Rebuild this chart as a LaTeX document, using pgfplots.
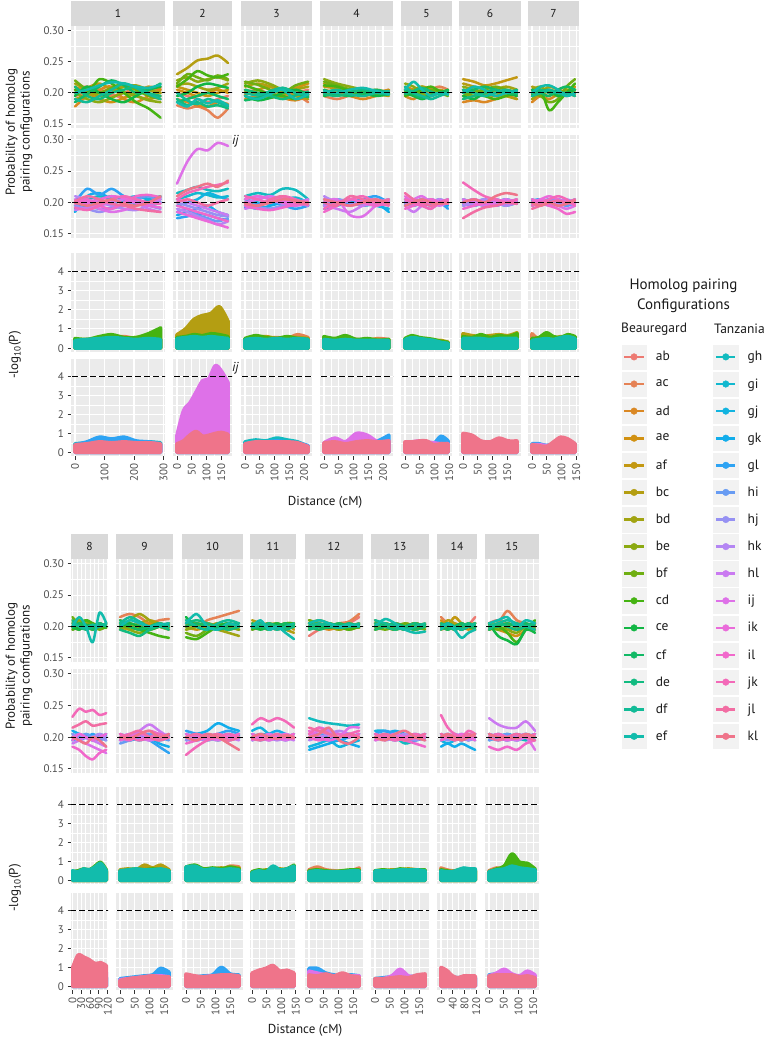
\documentclass[border=0pt]{standalone}
\usepackage{pgfplots}
\pgfplotsset{compat=1.18}
\usepackage{pgfplotstable}
\usepackage{fontspec}
\setmainfont{PT Sans}

\definecolor{gmix}{HTML}{9A9A9A}
\newcommand\mkcol[2]{\definecolor{tmpc}{HTML}{#2}\colorlet{#1}{tmpc!88!gmix}}
\mkcol{B1}{F8766D}\mkcol{B2}{EF7F4C}\mkcol{B3}{E38614}\mkcol{B4}{D89000}\mkcol{B5}{C89800}
\mkcol{B6}{B79F00}\mkcol{B7}{A3A500}\mkcol{B8}{8AAC00}\mkcol{B9}{69B100}\mkcol{B10}{39B600}
\mkcol{B11}{00BA38}\mkcol{B12}{00BD5F}\mkcol{B13}{00BF7D}\mkcol{B14}{00C097}\mkcol{B15}{00C1AE}
\mkcol{T1}{00BFC4}\mkcol{T2}{00BCD6}\mkcol{T3}{00B7E9}\mkcol{T4}{00B0F6}\mkcol{T5}{1FA4FF}
\mkcol{T6}{619CFF}\mkcol{T7}{9590FF}\mkcol{T8}{B783FF}\mkcol{T9}{D176FD}\mkcol{T10}{E76BF3}
\mkcol{T11}{F564E3}\mkcol{T12}{FD61D2}\mkcol{T13}{FF62BC}\mkcol{T14}{FE67A4}\mkcol{T15}{FB6F88}
\definecolor{ggbg}{HTML}{EBEBEB}
\definecolor{ggstrip}{HTML}{D9D9D9}
\definecolor{gg30}{HTML}{4D4D4D}
\definecolor{gg20}{HTML}{333333}
\definecolor{gg10}{HTML}{1A1A1A}
\definecolor{legbg}{HTML}{F2F2F2}

\newcommand\tickf{\fontsize{11}{12}\selectfont}
\newcommand\stripf{\fontsize{11.5}{13}\selectfont}
\newcommand\titf{\fontsize{13}{14.8}\selectfont}
\newcommand\legf{\fontsize{13.5}{15}\selectfont}
\newcommand\legtf{\fontsize{15}{20.3}\selectfont}

\pgfplotsset{
 gg/.style={scale only axis, anchor=north west,
  axis background/.style={fill=ggbg},
  axis line style={draw=none},
  grid=both,
  major grid style={white, line width=1.1pt},
  minor grid style={white, line width=0.55pt},
  minor x tick num=1, minor y tick num=1,
  tick pos=left, tick align=outside,
  major tick length=3.5pt, minor tick length=0pt,
  tick style={gg20, line width=0.9pt},
  tick label style={font=\tickf, text=gg30},
  x tick label style={rotate=90, anchor=east},
  /pgf/number format/assume math mode=true,
  scaled ticks=false,
  clip mode=individual,
  every axis title/.style={at={(0.5,1)}, anchor=south, fill=ggstrip, minimum height=24.5pt, inner sep=0pt, font=\stripf, text=gg10},
 },
 prob/.style={ymin=0.1435, ymax=0.3075, ytick={0.15,0.2,0.25,0.3},
   y tick label style={/pgf/number format/fixed, /pgf/number format/fixed zerofill, /pgf/number format/precision=2}},
 logr/.style={ymin=-0.2, ymax=4.95, ytick={0,1,2,3,4}},
 noxl/.style={xticklabels={}, xtick style={draw=none}},
 noyl/.style={yticklabels={}, ytick style={draw=none}},
 r1/.style={prob,noxl}, r2/.style={prob,noxl}, r3/.style={logr,noxl}, r4/.style={logr},
 c1/.style={width=94pt, xmin=-13.5, xmax=305, xtick={0,100,200,300}, title style={minimum width=94pt}},
 c2/.style={width=59pt, xmin=-13.5, xmax=186.5, xtick={0,50,100,150}, title style={minimum width=59pt}, noyl},
 c3/.style={width=71pt, xmin=-13.5, xmax=227, xtick={0,50,100,150,200}, title style={minimum width=71pt}, noyl},
 c4/.style={width=73pt, xmin=-13.5, xmax=234, xtick={0,50,100,150,200}, title style={minimum width=73pt}, noyl},
 c5/.style={width=51pt, xmin=-13.5, xmax=159.4, xtick={0,50,100,150}, title style={minimum width=51pt}, noyl},
 c6/.style={width=62pt, xmin=-13.5, xmax=196.7, xtick={0,50,100,150}, title style={minimum width=62pt}, noyl},
 c7/.style={width=51pt, xmin=-13.5, xmax=159.4, xtick={0,50,100,150}, title style={minimum width=51pt}, noyl},
 c8/.style={width=37pt, xmin=-5, xmax=121, xtick={0,30,60,90,120}, title style={minimum width=37pt}},
 c9/.style={width=57pt, xmin=-13.5, xmax=179.7, xtick={0,50,100,150}, title style={minimum width=57pt}, noyl},
 c10/.style={width=61pt, xmin=-13.5, xmax=193.3, xtick={0,50,100,150}, title style={minimum width=61pt}, noyl},
 c11/.style={width=46pt, xmin=-7, xmax=151, xtick={0,50,100,150}, title style={minimum width=46pt}, noyl},
 c12/.style={width=58pt, xmin=-13.5, xmax=183.1, xtick={0,50,100,150}, title style={minimum width=58pt}, noyl},
 c13/.style={width=58pt, xmin=-13.5, xmax=183.1, xtick={0,50,100,150}, title style={minimum width=58pt}, noyl},
 c14/.style={width=40pt, xmin=-13.5, xmax=122.1, xtick={0,40,80,120}, title style={minimum width=40pt}, noyl},
 c15/.style={width=54pt, xmin=-13.5, xmax=169.5, xtick={0,50,100,150}, title style={minimum width=54pt}, noyl},
 probline/.style={line width=2.5pt, smooth, line join=round, line cap=round},
 logarea/.style={line width=3.6pt, smooth, line join=round, fill},
 hl/.style={black, line width=1.1pt, dash pattern=on 5.5pt off 3.5pt},
}

\newcommand\probB[1]{\pgfplotsinvokeforeach{1,...,15}{\addplot[probline, color=B##1] table[x index=0, y index=##1] {#1};}\addplot[hl] coordinates {(-100,0.2) (400,0.2)};}
\newcommand\probT[1]{\pgfplotsinvokeforeach{1,...,15}{\addplot[probline, color=T##1] table[x index=0, y index=##1] {#1};}\addplot[hl] coordinates {(-100,0.2) (400,0.2)};}
\newcommand\logB[1]{%
\addplot[logarea, color=B2] table[x index=0, y index=3] {#1} \closedcycle;
\addplot[logarea, color=B6] table[x index=0, y index=2] {#1} \closedcycle;
\addplot[logarea, color=B10] table[x index=0, y index=1] {#1} \closedcycle;
\addplot[logarea, color=B15] table[x index=0, y index=4] {#1} \closedcycle;
\addplot[hl] coordinates {(-100,4) (400,4)};}
\newcommand\logT[1]{%
\addplot[logarea, color=T1] table[x index=0, y index=3] {#1} \closedcycle;
\addplot[logarea, color=T5] table[x index=0, y index=1] {#1} \closedcycle;
\addplot[logarea, color=T10] table[x index=0, y index=2] {#1} \closedcycle;
\addplot[logarea, color=T15] table[x index=0, y index=4] {#1} \closedcycle;
\addplot[hl] coordinates {(-100,4) (400,4)};}
\newcommand\pnl[5]{\begin{axis}[gg, at={(#1pt,-#2pt)}, height=#3pt, #4]#5\end{axis}}
\newcommand\lgi[2]{\addlegendimage{#1}\addlegendentry{#2}}

% ---------------- data: probability, Beauregard (PB) and Tanzania (PT) ----------------
\pgfplotstableread{
0 0.195 0.205 0.178 0.210 0.200 0.190 0.215 0.200 0.220 0.205 0.195 0.185 0.210 0.190 0.200
41 0.200 0.210 0.195 0.200 0.208 0.195 0.205 0.190 0.205 0.200 0.210 0.198 0.195 0.185 0.205
83 0.205 0.200 0.205 0.190 0.215 0.200 0.195 0.185 0.200 0.222 0.200 0.210 0.190 0.195 0.212
124 0.198 0.195 0.210 0.185 0.205 0.207 0.200 0.192 0.208 0.215 0.190 0.220 0.200 0.205 0.217
166 0.192 0.200 0.190 0.192 0.200 0.210 0.210 0.200 0.215 0.200 0.185 0.212 0.205 0.215 0.215
207 0.200 0.207 0.185 0.200 0.195 0.205 0.212 0.195 0.205 0.185 0.195 0.200 0.210 0.208 0.210
249 0.205 0.203 0.195 0.210 0.190 0.198 0.205 0.188 0.195 0.175 0.205 0.205 0.200 0.198 0.208
290 0.200 0.208 0.205 0.205 0.195 0.200 0.200 0.185 0.190 0.160 0.210 0.215 0.195 0.190 0.213
}\PBa
\pgfplotstableread{
0 0.200 0.195 0.190 0.185 0.200 0.205 0.195 0.210 0.188 0.200 0.205 0.198 0.192 0.202 0.200
41 0.205 0.200 0.195 0.210 0.222 0.195 0.190 0.205 0.192 0.198 0.200 0.205 0.188 0.210 0.195
83 0.210 0.205 0.200 0.215 0.212 0.190 0.185 0.200 0.195 0.190 0.205 0.195 0.195 0.205 0.200
124 0.205 0.210 0.198 0.205 0.222 0.192 0.190 0.195 0.200 0.185 0.210 0.190 0.205 0.198 0.205
166 0.200 0.205 0.205 0.200 0.210 0.198 0.195 0.190 0.205 0.188 0.207 0.200 0.210 0.195 0.198
207 0.198 0.200 0.210 0.205 0.205 0.205 0.200 0.188 0.200 0.195 0.200 0.210 0.205 0.190 0.195
249 0.205 0.195 0.205 0.210 0.200 0.210 0.195 0.195 0.190 0.200 0.195 0.212 0.200 0.187 0.200
290 0.210 0.200 0.200 0.205 0.208 0.200 0.190 0.200 0.185 0.205 0.192 0.208 0.198 0.185 0.210
}\PTa
\pgfplotstableread{
0 0.200 0.180 0.190 0.205 0.210 0.230 0.212 0.220 0.215 0.210 0.195 0.185 0.190 0.200 0.185
35 0.195 0.175 0.185 0.200 0.205 0.240 0.215 0.225 0.230 0.222 0.200 0.190 0.180 0.188 0.178
69 0.190 0.178 0.180 0.195 0.200 0.252 0.210 0.218 0.225 0.235 0.210 0.195 0.185 0.182 0.190
104 0.185 0.172 0.178 0.200 0.195 0.255 0.205 0.222 0.220 0.228 0.215 0.200 0.178 0.190 0.183
138 0.190 0.160 0.185 0.205 0.200 0.260 0.208 0.225 0.228 0.225 0.212 0.195 0.180 0.185 0.188
173 0.195 0.175 0.182 0.200 0.205 0.248 0.215 0.220 0.222 0.230 0.208 0.190 0.175 0.178 0.180
}\PBb
\pgfplotstableread{
0 0.215 0.205 0.195 0.180 0.175 0.185 0.200 0.190 0.205 0.230 0.185 0.195 0.205 0.200 0.210
35 0.220 0.210 0.200 0.185 0.178 0.190 0.195 0.185 0.200 0.265 0.180 0.190 0.215 0.205 0.220
69 0.225 0.215 0.205 0.190 0.182 0.180 0.190 0.178 0.195 0.285 0.175 0.185 0.220 0.200 0.225
104 0.220 0.212 0.215 0.195 0.180 0.175 0.185 0.172 0.190 0.283 0.170 0.180 0.225 0.195 0.230
138 0.218 0.208 0.210 0.185 0.175 0.170 0.180 0.165 0.185 0.295 0.165 0.175 0.228 0.200 0.225
173 0.222 0.210 0.205 0.180 0.172 0.175 0.178 0.170 0.180 0.290 0.160 0.170 0.232 0.205 0.235
}\PTb
\pgfplotstableread{
0 0.200 0.195 0.190 0.205 0.198 0.210 0.203 0.215 0.218 0.212 0.195 0.188 0.205 0.200 0.195
43 0.205 0.190 0.195 0.200 0.205 0.215 0.198 0.220 0.213 0.205 0.188 0.192 0.200 0.196 0.190
86 0.198 0.200 0.200 0.195 0.210 0.210 0.192 0.214 0.205 0.198 0.192 0.200 0.195 0.203 0.198
128 0.195 0.205 0.192 0.200 0.205 0.200 0.198 0.205 0.200 0.195 0.200 0.208 0.190 0.208 0.205
171 0.200 0.198 0.188 0.208 0.200 0.195 0.205 0.200 0.212 0.190 0.205 0.200 0.196 0.200 0.190
214 0.205 0.185 0.195 0.215 0.195 0.190 0.210 0.195 0.218 0.197 0.198 0.193 0.202 0.197 0.198
}\PBc
\pgfplotstableread{
0 0.210 0.205 0.200 0.195 0.192 0.200 0.198 0.205 0.190 0.200 0.205 0.195 0.210 0.200 0.198
43 0.215 0.200 0.195 0.190 0.198 0.205 0.193 0.210 0.195 0.205 0.210 0.190 0.205 0.195 0.195
86 0.212 0.198 0.190 0.195 0.202 0.210 0.190 0.205 0.200 0.210 0.205 0.188 0.200 0.205 0.200
128 0.222 0.203 0.195 0.200 0.196 0.205 0.195 0.198 0.205 0.203 0.200 0.192 0.210 0.210 0.205
171 0.220 0.208 0.198 0.205 0.190 0.200 0.200 0.195 0.200 0.198 0.195 0.197 0.205 0.200 0.203
214 0.205 0.200 0.195 0.198 0.195 0.195 0.205 0.200 0.195 0.205 0.200 0.202 0.198 0.197 0.200
}\PTc
\pgfplotstableread{
0 0.200 0.195 0.205 0.198 0.210 0.215 0.200 0.222 0.218 0.212 0.195 0.205 0.198 0.200 0.203
44 0.198 0.190 0.200 0.205 0.207 0.210 0.205 0.215 0.212 0.210 0.200 0.198 0.195 0.205 0.200
88 0.203 0.196 0.195 0.200 0.203 0.206 0.200 0.210 0.205 0.203 0.205 0.195 0.200 0.198 0.205
132 0.197 0.202 0.190 0.195 0.200 0.200 0.195 0.205 0.200 0.198 0.200 0.200 0.205 0.195 0.208
176 0.200 0.198 0.195 0.200 0.205 0.198 0.200 0.200 0.196 0.203 0.195 0.205 0.200 0.200 0.203
220 0.205 0.200 0.200 0.205 0.200 0.195 0.203 0.198 0.200 0.200 0.198 0.200 0.197 0.203 0.198
}\PBd
\pgfplotstableread{
0 0.205 0.200 0.195 0.190 0.195 0.198 0.200 0.210 0.195 0.200 0.205 0.185 0.190 0.200 0.205
44 0.200 0.205 0.200 0.195 0.200 0.202 0.205 0.200 0.190 0.205 0.200 0.195 0.200 0.195 0.200
88 0.198 0.200 0.205 0.200 0.198 0.205 0.200 0.195 0.185 0.180 0.195 0.205 0.205 0.210 0.195
132 0.203 0.195 0.200 0.205 0.205 0.200 0.195 0.203 0.195 0.178 0.200 0.200 0.210 0.205 0.200
176 0.200 0.198 0.195 0.200 0.210 0.195 0.200 0.205 0.200 0.195 0.205 0.195 0.200 0.200 0.205
220 0.205 0.200 0.190 0.185 0.200 0.200 0.205 0.198 0.205 0.203 0.198 0.200 0.195 0.205 0.198
}\PTd
\pgfplotstableread{
0 0.200 0.205 0.195 0.210 0.198 0.205 0.200 0.215 0.203 0.195 0.200 0.205 0.198 0.210 0.205
29 0.205 0.198 0.190 0.205 0.203 0.200 0.205 0.210 0.198 0.200 0.195 0.198 0.203 0.200 0.218
58 0.198 0.195 0.200 0.198 0.210 0.195 0.210 0.200 0.200 0.205 0.190 0.192 0.208 0.195 0.205
88 0.195 0.205 0.205 0.195 0.205 0.200 0.203 0.195 0.205 0.210 0.195 0.197 0.202 0.190 0.195
117 0.200 0.210 0.200 0.202 0.198 0.205 0.198 0.200 0.200 0.203 0.200 0.200 0.198 0.195 0.200
146 0.203 0.205 0.198 0.200 0.200 0.200 0.200 0.198 0.195 0.200 0.205 0.203 0.200 0.200 0.197
}\PBe
\pgfplotstableread{
0 0.200 0.205 0.195 0.200 0.198 0.195 0.200 0.205 0.195 0.200 0.210 0.190 0.205 0.215 0.195
29 0.205 0.200 0.200 0.195 0.203 0.200 0.195 0.200 0.185 0.205 0.200 0.195 0.200 0.205 0.200
58 0.198 0.195 0.205 0.200 0.200 0.205 0.200 0.195 0.195 0.210 0.195 0.200 0.195 0.200 0.205
88 0.200 0.200 0.198 0.205 0.195 0.200 0.205 0.190 0.200 0.200 0.205 0.205 0.190 0.195 0.200
117 0.203 0.205 0.200 0.200 0.200 0.198 0.200 0.200 0.205 0.195 0.200 0.200 0.200 0.200 0.198
146 0.200 0.200 0.205 0.195 0.190 0.200 0.198 0.205 0.200 0.200 0.198 0.203 0.205 0.198 0.200
}\PTe
\pgfplotstableread{
0 0.200 0.190 0.185 0.205 0.222 0.215 0.200 0.210 0.195 0.205 0.195 0.200 0.190 0.205 0.200
37 0.205 0.195 0.188 0.200 0.218 0.210 0.195 0.205 0.200 0.200 0.190 0.205 0.195 0.200 0.210
73 0.198 0.200 0.185 0.195 0.212 0.205 0.200 0.200 0.205 0.195 0.200 0.210 0.200 0.195 0.205
110 0.195 0.205 0.190 0.200 0.215 0.200 0.205 0.195 0.210 0.190 0.205 0.205 0.205 0.200 0.195
146 0.200 0.200 0.195 0.205 0.220 0.195 0.210 0.200 0.205 0.195 0.200 0.200 0.200 0.205 0.200
183 0.203 0.195 0.190 0.200 0.225 0.190 0.205 0.205 0.200 0.200 0.195 0.198 0.205 0.200 0.203
}\PBf
\pgfplotstableread{
0 0.205 0.200 0.195 0.200 0.198 0.205 0.200 0.195 0.200 0.205 0.200 0.190 0.232 0.175 0.200
37 0.200 0.205 0.200 0.195 0.203 0.200 0.195 0.200 0.205 0.200 0.205 0.195 0.220 0.185 0.205
73 0.195 0.198 0.205 0.200 0.200 0.198 0.200 0.205 0.200 0.195 0.200 0.200 0.210 0.192 0.200
110 0.200 0.195 0.200 0.205 0.195 0.200 0.205 0.200 0.195 0.200 0.195 0.205 0.205 0.195 0.210
146 0.205 0.200 0.195 0.200 0.200 0.205 0.200 0.195 0.200 0.205 0.200 0.200 0.200 0.200 0.215
183 0.200 0.203 0.200 0.198 0.205 0.200 0.198 0.200 0.203 0.200 0.205 0.198 0.205 0.198 0.212
}\PTf
\pgfplotstableread{
0 0.200 0.205 0.185 0.195 0.200 0.210 0.190 0.205 0.200 0.198 0.195 0.205 0.200 0.195 0.200
29 0.198 0.200 0.195 0.205 0.195 0.205 0.200 0.210 0.195 0.205 0.200 0.200 0.205 0.200 0.210
58 0.205 0.195 0.190 0.200 0.205 0.200 0.210 0.200 0.185 0.172 0.205 0.195 0.200 0.205 0.212
88 0.200 0.205 0.198 0.195 0.200 0.195 0.205 0.195 0.190 0.185 0.195 0.205 0.200 0.200 0.205
117 0.195 0.200 0.205 0.200 0.198 0.200 0.200 0.205 0.210 0.200 0.200 0.210 0.195 0.200 0.195
146 0.200 0.198 0.200 0.210 0.205 0.205 0.195 0.200 0.222 0.215 0.205 0.205 0.200 0.195 0.200
}\PBg
\pgfplotstableread{
0 0.200 0.205 0.198 0.195 0.203 0.200 0.195 0.205 0.200 0.198 0.200 0.205 0.195 0.190 0.200
29 0.205 0.200 0.203 0.200 0.205 0.198 0.200 0.200 0.195 0.205 0.205 0.200 0.200 0.195 0.195
58 0.200 0.203 0.200 0.205 0.198 0.205 0.200 0.195 0.200 0.200 0.210 0.195 0.205 0.200 0.200
88 0.203 0.198 0.205 0.200 0.200 0.200 0.205 0.200 0.195 0.195 0.205 0.190 0.210 0.203 0.195
117 0.200 0.200 0.200 0.203 0.195 0.195 0.200 0.205 0.200 0.190 0.200 0.182 0.205 0.200 0.198
146 0.205 0.198 0.203 0.200 0.200 0.200 0.195 0.200 0.205 0.195 0.198 0.185 0.195 0.205 0.203
}\PTg
\pgfplotstableread{
0 0.200 0.195 0.205 0.200 0.198 0.210 0.200 0.205 0.215 0.195 0.200 0.198 0.210 0.205 0.200
23 0.203 0.200 0.198 0.205 0.205 0.200 0.195 0.210 0.205 0.200 0.195 0.205 0.200 0.200 0.215
46 0.198 0.205 0.200 0.195 0.200 0.203 0.205 0.200 0.210 0.210 0.203 0.200 0.195 0.198 0.200
69 0.200 0.200 0.205 0.200 0.195 0.200 0.200 0.195 0.200 0.205 0.200 0.195 0.200 0.203 0.175
92 0.205 0.198 0.198 0.203 0.200 0.205 0.203 0.200 0.195 0.200 0.205 0.200 0.205 0.200 0.222
115 0.200 0.203 0.200 0.198 0.205 0.200 0.200 0.205 0.200 0.198 0.200 0.203 0.200 0.205 0.205
}\PBh
\pgfplotstableread{
0 0.205 0.200 0.195 0.210 0.200 0.195 0.205 0.200 0.190 0.200 0.195 0.185 0.232 0.215 0.200
23 0.200 0.205 0.200 0.205 0.195 0.200 0.198 0.205 0.195 0.195 0.205 0.180 0.245 0.220 0.195
46 0.203 0.200 0.205 0.200 0.200 0.205 0.200 0.198 0.200 0.190 0.200 0.170 0.240 0.225 0.190
69 0.200 0.195 0.200 0.195 0.205 0.200 0.195 0.200 0.195 0.185 0.195 0.165 0.243 0.218 0.200
92 0.205 0.200 0.198 0.200 0.200 0.195 0.200 0.205 0.190 0.180 0.200 0.175 0.235 0.220 0.195
115 0.200 0.203 0.200 0.205 0.195 0.200 0.195 0.200 0.185 0.175 0.205 0.180 0.238 0.222 0.185
}\PTh
\pgfplotstableread{
0 0.200 0.215 0.205 0.200 0.210 0.195 0.200 0.205 0.198 0.205 0.200 0.210 0.195 0.205 0.200
33 0.205 0.220 0.200 0.195 0.205 0.200 0.210 0.195 0.200 0.200 0.205 0.200 0.190 0.215 0.210
66 0.198 0.215 0.195 0.200 0.200 0.205 0.220 0.190 0.195 0.195 0.200 0.195 0.185 0.208 0.205
100 0.202 0.205 0.200 0.205 0.195 0.210 0.210 0.195 0.200 0.190 0.195 0.200 0.195 0.200 0.200
133 0.200 0.210 0.205 0.200 0.200 0.205 0.200 0.200 0.205 0.185 0.200 0.205 0.200 0.205 0.203
166 0.203 0.212 0.200 0.198 0.205 0.200 0.195 0.205 0.200 0.182 0.205 0.200 0.195 0.200 0.205
}\PBi
\pgfplotstableread{
0 0.200 0.205 0.200 0.195 0.200 0.190 0.195 0.200 0.205 0.200 0.195 0.200 0.205 0.198 0.200
33 0.203 0.200 0.195 0.200 0.195 0.195 0.200 0.205 0.200 0.205 0.200 0.195 0.200 0.205 0.198
66 0.200 0.195 0.200 0.205 0.200 0.200 0.205 0.200 0.210 0.200 0.205 0.205 0.195 0.210 0.205
100 0.205 0.200 0.205 0.200 0.195 0.205 0.200 0.195 0.220 0.195 0.200 0.210 0.200 0.200 0.210
133 0.200 0.205 0.195 0.190 0.185 0.200 0.205 0.200 0.210 0.200 0.195 0.205 0.205 0.195 0.200
166 0.203 0.200 0.200 0.185 0.175 0.195 0.200 0.205 0.200 0.205 0.200 0.200 0.200 0.200 0.205
}\PTi
\pgfplotstableread{
0 0.200 0.205 0.210 0.195 0.200 0.205 0.200 0.195 0.190 0.183 0.215 0.200 0.205 0.210 0.205
36 0.205 0.200 0.205 0.200 0.195 0.200 0.205 0.200 0.185 0.180 0.200 0.205 0.210 0.200 0.220
72 0.200 0.210 0.200 0.205 0.200 0.195 0.200 0.205 0.195 0.190 0.195 0.200 0.205 0.195 0.200
108 0.198 0.215 0.205 0.200 0.205 0.200 0.195 0.200 0.205 0.200 0.200 0.195 0.200 0.205 0.195
144 0.203 0.220 0.200 0.195 0.200 0.205 0.190 0.195 0.200 0.205 0.205 0.200 0.195 0.210 0.205
180 0.200 0.225 0.195 0.200 0.195 0.200 0.185 0.200 0.195 0.200 0.200 0.205 0.200 0.205 0.200
}\PBj
\pgfplotstableread{
0 0.200 0.205 0.195 0.200 0.210 0.200 0.195 0.205 0.200 0.200 0.205 0.190 0.172 0.200 0.200
36 0.205 0.200 0.200 0.205 0.205 0.195 0.200 0.200 0.195 0.205 0.200 0.195 0.185 0.205 0.195
72 0.200 0.195 0.205 0.210 0.200 0.200 0.205 0.195 0.200 0.200 0.205 0.200 0.195 0.200 0.205
108 0.195 0.200 0.200 0.222 0.205 0.205 0.200 0.200 0.205 0.195 0.200 0.205 0.200 0.205 0.200
144 0.200 0.205 0.195 0.215 0.210 0.200 0.195 0.205 0.200 0.200 0.195 0.200 0.205 0.195 0.190
180 0.203 0.200 0.200 0.210 0.205 0.198 0.200 0.200 0.195 0.205 0.200 0.205 0.200 0.200 0.180
}\PTj
\pgfplotstableread{
0 0.200 0.195 0.205 0.200 0.198 0.210 0.200 0.205 0.200 0.195 0.200 0.205 0.198 0.200 0.200
29 0.203 0.200 0.200 0.205 0.202 0.205 0.198 0.200 0.205 0.200 0.195 0.200 0.200 0.205 0.210
58 0.200 0.205 0.198 0.200 0.205 0.200 0.203 0.195 0.200 0.205 0.200 0.195 0.205 0.200 0.195
86 0.198 0.200 0.203 0.195 0.200 0.198 0.205 0.200 0.205 0.200 0.205 0.200 0.200 0.195 0.200
115 0.200 0.203 0.200 0.200 0.205 0.195 0.200 0.205 0.198 0.205 0.200 0.205 0.195 0.200 0.190
144 0.202 0.200 0.205 0.200 0.195 0.190 0.200 0.205 0.200 0.205 0.203 0.200 0.200 0.205 0.180
}\PBk
\pgfplotstableread{
0 0.200 0.205 0.210 0.195 0.200 0.198 0.205 0.200 0.200 0.195 0.205 0.200 0.220 0.198 0.200
29 0.205 0.200 0.215 0.200 0.195 0.200 0.200 0.205 0.198 0.200 0.200 0.203 0.230 0.195 0.205
58 0.203 0.198 0.205 0.205 0.200 0.205 0.195 0.200 0.200 0.205 0.195 0.200 0.225 0.200 0.200
86 0.200 0.200 0.200 0.210 0.205 0.200 0.200 0.195 0.205 0.200 0.200 0.197 0.230 0.205 0.198
115 0.198 0.203 0.200 0.205 0.200 0.195 0.205 0.200 0.200 0.195 0.205 0.200 0.225 0.200 0.203
144 0.200 0.200 0.205 0.200 0.198 0.200 0.200 0.205 0.195 0.200 0.200 0.205 0.215 0.198 0.200
}\PTk
\pgfplotstableread{
0 0.185 0.200 0.205 0.210 0.200 0.195 0.205 0.200 0.210 0.198 0.205 0.200 0.195 0.200 0.205
34 0.195 0.205 0.200 0.205 0.200 0.200 0.210 0.203 0.205 0.200 0.200 0.195 0.200 0.205 0.210
68 0.200 0.200 0.195 0.200 0.205 0.203 0.205 0.200 0.200 0.205 0.198 0.200 0.205 0.200 0.205
102 0.198 0.205 0.200 0.195 0.200 0.200 0.200 0.195 0.205 0.200 0.203 0.205 0.200 0.198 0.200
136 0.205 0.208 0.200 0.200 0.195 0.198 0.205 0.200 0.200 0.195 0.200 0.200 0.205 0.200 0.203
170 0.215 0.220 0.205 0.198 0.200 0.200 0.200 0.205 0.198 0.200 0.203 0.200 0.200 0.205 0.200
}\PBl
\pgfplotstableread{
0 0.230 0.205 0.185 0.180 0.200 0.205 0.200 0.195 0.205 0.200 0.210 0.200 0.205 0.215 0.200
34 0.225 0.200 0.190 0.185 0.205 0.200 0.205 0.200 0.215 0.210 0.200 0.195 0.215 0.210 0.205
68 0.222 0.195 0.195 0.190 0.200 0.195 0.210 0.205 0.210 0.205 0.195 0.200 0.205 0.205 0.215
102 0.220 0.200 0.185 0.195 0.195 0.200 0.205 0.210 0.205 0.200 0.200 0.205 0.200 0.200 0.195
136 0.218 0.205 0.190 0.190 0.200 0.205 0.200 0.205 0.200 0.215 0.205 0.200 0.205 0.205 0.190
170 0.220 0.200 0.195 0.185 0.205 0.200 0.205 0.200 0.205 0.215 0.200 0.205 0.210 0.200 0.200
}\PTl
\pgfplotstableread{
0 0.200 0.205 0.195 0.200 0.210 0.200 0.205 0.195 0.200 0.205 0.200 0.195 0.205 0.210 0.200
34 0.203 0.200 0.200 0.205 0.200 0.205 0.200 0.200 0.195 0.200 0.205 0.200 0.200 0.205 0.212
68 0.198 0.205 0.205 0.198 0.195 0.200 0.203 0.205 0.200 0.195 0.200 0.205 0.195 0.200 0.205
102 0.200 0.200 0.200 0.200 0.205 0.195 0.200 0.200 0.205 0.200 0.195 0.200 0.200 0.195 0.195
136 0.205 0.198 0.195 0.205 0.200 0.200 0.205 0.195 0.200 0.205 0.200 0.195 0.205 0.200 0.190
170 0.200 0.203 0.200 0.200 0.198 0.205 0.200 0.200 0.195 0.200 0.203 0.200 0.200 0.205 0.192
}\PBm
\pgfplotstableread{
0 0.200 0.205 0.210 0.200 0.205 0.200 0.195 0.200 0.205 0.200 0.195 0.200 0.205 0.200 0.200
34 0.205 0.200 0.210 0.205 0.210 0.205 0.200 0.195 0.200 0.205 0.200 0.203 0.200 0.205 0.195
68 0.200 0.195 0.205 0.210 0.205 0.200 0.205 0.200 0.195 0.200 0.205 0.200 0.195 0.200 0.205
102 0.190 0.200 0.200 0.205 0.200 0.195 0.200 0.205 0.200 0.195 0.200 0.195 0.200 0.195 0.210
136 0.195 0.205 0.195 0.200 0.195 0.200 0.195 0.200 0.205 0.200 0.198 0.190 0.205 0.200 0.200
170 0.200 0.200 0.200 0.205 0.200 0.205 0.200 0.195 0.200 0.205 0.200 0.185 0.200 0.205 0.195
}\PTm
\pgfplotstableread{
0 0.205 0.215 0.200 0.210 0.195 0.200 0.205 0.195 0.200 0.205 0.200 0.200 0.205 0.200 0.195
23 0.200 0.205 0.205 0.200 0.200 0.210 0.200 0.205 0.195 0.200 0.205 0.195 0.200 0.205 0.205
46 0.195 0.200 0.200 0.205 0.215 0.205 0.195 0.200 0.200 0.195 0.200 0.200 0.195 0.200 0.195
70 0.200 0.195 0.205 0.200 0.205 0.200 0.200 0.195 0.205 0.200 0.195 0.205 0.200 0.195 0.182
93 0.203 0.200 0.200 0.195 0.200 0.203 0.205 0.200 0.200 0.205 0.200 0.200 0.205 0.200 0.190
116 0.215 0.200 0.198 0.200 0.195 0.205 0.200 0.205 0.195 0.200 0.205 0.198 0.200 0.205 0.195
}\PBn
\pgfplotstableread{
0 0.205 0.200 0.195 0.185 0.200 0.205 0.200 0.195 0.205 0.200 0.200 0.195 0.235 0.205 0.200
23 0.200 0.205 0.190 0.190 0.205 0.200 0.195 0.200 0.200 0.205 0.205 0.200 0.215 0.200 0.205
46 0.205 0.200 0.195 0.185 0.200 0.200 0.200 0.205 0.195 0.200 0.200 0.205 0.205 0.195 0.200
70 0.200 0.195 0.200 0.190 0.195 0.205 0.205 0.200 0.200 0.195 0.205 0.200 0.200 0.200 0.195
93 0.205 0.200 0.195 0.185 0.200 0.200 0.200 0.195 0.205 0.200 0.200 0.205 0.210 0.205 0.200
116 0.200 0.205 0.200 0.180 0.205 0.195 0.200 0.200 0.200 0.205 0.195 0.200 0.205 0.200 0.205
}\PTn
\pgfplotstableread{
0 0.205 0.200 0.195 0.200 0.205 0.200 0.195 0.205 0.200 0.195 0.205 0.200 0.195 0.200 0.205
31 0.210 0.205 0.200 0.195 0.200 0.205 0.200 0.200 0.195 0.200 0.185 0.200 0.205 0.205 0.210
62 0.200 0.225 0.205 0.190 0.195 0.200 0.205 0.195 0.200 0.190 0.178 0.205 0.200 0.210 0.215
94 0.195 0.210 0.200 0.185 0.200 0.195 0.200 0.190 0.205 0.175 0.172 0.200 0.195 0.205 0.200
125 0.200 0.205 0.195 0.195 0.205 0.200 0.195 0.200 0.200 0.195 0.195 0.205 0.200 0.200 0.210
156 0.205 0.200 0.200 0.205 0.195 0.205 0.200 0.195 0.205 0.210 0.190 0.200 0.205 0.195 0.205
}\PBo
\pgfplotstableread{
0 0.205 0.200 0.195 0.205 0.200 0.195 0.205 0.200 0.230 0.200 0.205 0.185 0.200 0.200 0.205
31 0.200 0.205 0.200 0.200 0.195 0.200 0.200 0.205 0.220 0.205 0.200 0.180 0.205 0.195 0.200
62 0.205 0.200 0.205 0.195 0.200 0.205 0.195 0.200 0.215 0.200 0.195 0.185 0.200 0.200 0.200
94 0.200 0.195 0.200 0.200 0.205 0.200 0.200 0.195 0.215 0.195 0.200 0.180 0.205 0.205 0.198
125 0.195 0.200 0.205 0.200 0.200 0.205 0.205 0.200 0.225 0.200 0.205 0.190 0.200 0.200 0.205
156 0.200 0.205 0.200 0.205 0.195 0.200 0.200 0.205 0.210 0.180 0.200 0.195 0.205 0.195 0.200
}\PTo

% ---------------- data: -log10(P); columns x, green, olive, orange, teal (B) / x, blue, purple, teal, pink (T)
\pgfplotstableread{
0 0.50 0.35 0.40 0.40
41 0.45 0.40 0.45 0.45
83 0.60 0.45 0.40 0.50
124 0.70 0.50 0.55 0.55
166 0.55 0.45 0.60 0.50
207 0.55 0.55 0.50 0.45
249 0.75 0.50 0.55 0.50
290 1.05 0.45 0.50 0.45
}\LBa
\pgfplotstableread{
0 0.40 0.30 0.45 0.40
41 0.55 0.40 0.50 0.45
83 0.80 0.45 0.60 0.55
124 0.70 0.50 0.55 0.50
166 0.80 0.45 0.60 0.55
207 0.60 0.40 0.50 0.50
249 0.55 0.50 0.55 0.50
290 0.45 0.40 0.50 0.45
}\LTa
\pgfplotstableread{
0 0.55 0.70 0.45 0.50
29 0.60 1.00 0.55 0.55
58 0.70 1.50 0.60 0.60
87 0.65 1.70 0.75 0.55
115 0.75 1.80 0.90 0.60
144 0.70 2.15 0.70 0.55
173 0.60 1.40 0.60 0.50
}\LBb
\pgfplotstableread{
0 0.50 0.90 0.55 0.45
22 0.60 2.20 0.70 0.60
43 0.70 2.60 0.80 0.90
65 0.80 3.20 0.95 1.10
87 0.75 3.80 1.00 0.85
108 0.85 3.90 1.05 0.90
130 0.90 4.60 1.20 1.00
151 0.85 4.30 1.15 1.05
173 0.80 3.70 1.10 0.95
}\LTb
\pgfplotstableread{
0 0.50 0.45 0.40 0.45
36 0.65 0.55 0.45 0.50
71 0.55 0.60 0.50 0.45
107 0.50 0.50 0.55 0.50
143 0.60 0.55 0.50 0.45
178 0.50 0.55 0.70 0.50
214 0.45 0.50 0.55 0.45
}\LBc
\pgfplotstableread{
0 0.45 0.40 0.55 0.45
36 0.50 0.45 0.65 0.55
71 0.55 0.50 0.60 0.55
107 0.60 0.50 0.75 0.55
143 0.55 0.45 0.65 0.55
178 0.50 0.45 0.55 0.50
214 0.35 0.30 0.30 0.30
}\LTc
\pgfplotstableread{
0 0.60 0.55 0.45 0.45
37 0.50 0.45 0.40 0.40
73 0.65 0.45 0.40 0.45
110 0.45 0.40 0.45 0.40
147 0.50 0.45 0.40 0.40
183 0.40 0.45 0.50 0.40
220 0.45 0.40 0.45 0.40
}\LBd
\pgfplotstableread{
0 0.45 0.50 0.40 0.50
37 0.40 0.75 0.45 0.55
73 0.45 0.55 0.40 0.45
110 0.50 1.00 0.45 0.55
147 0.45 0.90 0.40 0.60
183 0.60 0.55 0.45 0.55
220 0.90 0.60 0.50 0.60
}\LTd
\pgfplotstableread{
0 0.50 0.45 0.40 0.45
24 0.65 0.50 0.45 0.55
49 0.55 0.45 0.45 0.50
73 0.50 0.50 0.45 0.45
97 0.45 0.40 0.40 0.40
122 0.35 0.40 0.35 0.30
146 0.30 0.30 0.30 0.25
}\LBe
\pgfplotstableread{
0 0.45 0.50 0.40 0.55
24 0.50 0.55 0.45 0.55
49 0.50 0.60 0.45 0.60
73 0.55 0.55 0.50 0.60
97 0.45 0.50 0.40 0.40
122 0.85 0.45 0.40 0.45
146 0.60 0.45 0.40 0.45
}\LTe
\pgfplotstableread{
0 0.60 0.75 0.50 0.50
31 0.55 0.65 0.50 0.50
61 0.70 0.60 0.55 0.50
92 0.55 0.65 0.50 0.45
122 0.65 0.70 0.55 0.50
153 0.60 0.65 0.50 0.50
183 0.75 0.80 0.55 0.50
}\LBf
\pgfplotstableread{
0 0.60 0.50 0.55 1.00
31 0.70 0.45 0.60 0.90
61 0.55 0.40 0.50 0.60
92 0.50 0.45 0.45 0.55
122 0.55 0.40 0.50 0.75
153 0.50 0.45 0.45 0.60
183 0.50 0.40 0.50 0.60
}\LTf
\pgfplotstableread{
0 0.50 0.45 0.75 0.40
24 0.55 0.50 0.45 0.45
49 0.80 0.55 0.50 0.50
73 0.60 0.50 0.55 0.45
97 0.55 0.60 0.50 0.55
122 0.70 0.55 0.50 0.60
146 0.60 0.55 0.45 0.50
}\LBg
\pgfplotstableread{
0 0.45 0.40 0.40 0.40
24 0.45 0.40 0.40 0.35
49 0.35 0.35 0.35 0.30
73 0.45 0.40 0.40 0.55
97 0.55 0.45 0.45 0.80
122 0.50 0.45 0.45 0.70
146 0.45 0.40 0.40 0.45
}\LTg
\pgfplotstableread{
0 0.45 0.40 0.40 0.50
19 0.50 0.45 0.45 0.45
38 0.60 0.50 0.45 0.60
58 0.55 0.50 0.50 0.55
77 0.75 0.55 0.50 0.70
96 0.95 0.60 0.55 0.90
115 0.55 0.50 0.45 0.50
}\LBh
\pgfplotstableread{
0 0.60 1.00 0.50 0.95
19 0.70 0.90 0.55 1.65
38 0.75 0.80 0.60 1.55
58 0.70 0.85 0.55 1.40
77 0.60 0.90 0.50 1.20
96 0.55 0.80 0.50 1.25
115 0.50 0.75 0.45 1.10
}\LTh
\pgfplotstableread{
0 0.45 0.55 0.50 0.50
28 0.55 0.60 0.55 0.55
55 0.60 0.55 0.55 0.60
83 0.55 0.80 0.60 0.55
111 0.60 0.65 0.60 0.55
138 0.55 0.80 0.60 0.60
166 0.50 0.55 0.50 0.50
}\LBi
\pgfplotstableread{
0 0.40 0.35 0.35 0.30
28 0.45 0.40 0.40 0.40
55 0.50 0.45 0.45 0.45
83 0.55 0.50 0.50 0.50
111 0.60 0.55 0.50 0.55
138 0.95 0.55 0.50 0.50
166 0.75 0.50 0.45 0.50
}\LTi
\pgfplotstableread{
0 0.70 0.60 0.55 0.70
30 0.80 0.65 0.60 0.75
60 0.60 0.55 0.50 0.55
90 0.65 0.60 0.55 0.60
120 0.60 0.65 0.55 0.55
150 0.70 0.60 0.75 0.60
180 0.60 0.65 0.70 0.55
}\LBj
\pgfplotstableread{
0 0.55 0.45 0.50 0.65
30 0.50 0.45 0.45 0.55
60 0.55 0.50 0.50 0.50
90 0.60 0.55 0.50 0.55
120 1.00 0.55 0.50 0.60
150 0.65 0.55 0.50 0.60
180 0.60 0.50 0.50 0.55
}\LTj
\pgfplotstableread{
0 0.45 0.40 0.45 0.40
24 0.55 0.45 0.50 0.50
48 0.50 0.55 0.45 0.45
72 0.65 0.55 0.55 0.75
96 0.55 0.60 0.50 0.55
120 0.60 0.55 0.60 0.60
144 0.80 0.60 0.55 0.75
}\LBk
\pgfplotstableread{
0 0.55 0.45 0.50 0.70
24 0.60 0.50 0.50 0.85
48 0.50 0.55 0.45 0.95
72 0.55 0.50 0.50 1.10
96 0.50 0.45 0.45 0.80
120 0.55 0.50 0.50 0.85
144 0.55 0.45 0.45 0.70
}\LTk
\pgfplotstableread{
0 0.50 0.45 0.55 0.45
28 0.55 0.50 0.70 0.50
57 0.50 0.50 0.55 0.45
85 0.45 0.45 0.50 0.45
113 0.50 0.50 0.45 0.45
142 0.55 0.50 0.50 0.50
170 0.55 0.50 0.65 0.50
}\LBl
\pgfplotstableread{
0 0.95 0.80 0.70 0.60
28 0.95 0.70 0.60 0.55
57 0.70 0.60 0.55 0.65
85 0.60 0.55 0.50 0.55
113 0.55 0.60 0.50 0.70
142 0.60 0.55 0.50 0.55
170 0.55 0.55 0.50 0.50
}\LTl
\pgfplotstableread{
0 0.50 0.50 0.45 0.50
28 0.55 0.50 0.50 0.50
57 0.50 0.55 0.50 0.50
85 0.60 0.55 0.55 0.55
113 0.55 0.60 0.50 0.55
142 0.55 0.55 0.50 0.55
170 0.55 0.50 0.50 0.50
}\LBm
\pgfplotstableread{
0 0.40 0.35 0.40 0.40
28 0.45 0.40 0.40 0.40
57 0.50 0.55 0.45 0.45
85 0.55 0.90 0.45 0.50
113 0.50 0.55 0.45 0.45
142 0.55 0.50 0.50 0.60
170 0.55 0.50 0.50 0.65
}\LTm
\pgfplotstableread{
0 0.55 0.50 0.65 0.50
19 0.50 0.50 0.55 0.45
39 0.45 0.45 0.50 0.45
58 0.55 0.50 0.50 0.55
77 0.60 0.55 0.55 0.65
97 0.60 0.55 0.50 0.60
116 0.55 0.50 0.50 0.60
}\LBn
\pgfplotstableread{
0 0.60 0.55 0.55 1.00
19 0.60 0.55 0.50 0.85
39 0.50 0.45 0.45 0.55
58 0.45 0.40 0.40 0.45
77 0.50 0.45 0.45 0.55
97 0.50 0.45 0.45 0.55
116 0.50 0.45 0.45 0.55
}\LTn
\pgfplotstableread{
0 0.45 0.45 0.50 0.45
26 0.60 0.50 0.65 0.55
52 0.75 0.55 0.60 0.60
78 1.40 0.60 0.70 0.75
104 0.95 0.55 0.60 0.65
130 0.90 0.55 0.55 0.60
156 0.60 0.50 0.50 0.55
}\LBo
\pgfplotstableread{
0 0.60 0.55 0.50 0.55
26 0.65 0.70 0.55 0.60
52 0.60 0.90 0.50 0.60
78 0.55 0.65 0.50 0.60
104 0.50 0.55 0.45 0.50
130 0.55 0.80 0.50 0.55
156 0.50 0.60 0.45 0.45
}\LTo

\begin{document}
\begin{tikzpicture}
\useasboundingbox (0,0) rectangle (770pt,-1038pt);
% ===== top block =====
\pnl{71}{26}{102}{c1,r1,title=1}{\probB{\PBa}}
\pnl{71}{135}{103}{c1,r2}{\probT{\PTa}}
\pnl{71}{253}{99}{c1,r3}{\logB{\LBa}}
\pnl{71}{359}{97}{c1,r4}{\logT{\LTa}}
\pnl{173}{26}{102}{c2,r1,title=2}{\probB{\PBb}}
\pnl{173}{135}{103}{c2,r2}{\probT{\PTb}\node[anchor=west, inner sep=0pt, font=\titf\itshape, text=gg10] at (axis cs:186,0.298) {ij};}
\pnl{173}{253}{99}{c2,r3}{\logB{\LBb}}
\pnl{173}{359}{97}{c2,r4}{\logT{\LTb}\node[anchor=west, inner sep=0pt, font=\titf\itshape, text=gg10] at (axis cs:186,4.45) {ij};}
\pnl{241}{26}{102}{c3,r1,title=3}{\probB{\PBc}}
\pnl{241}{135}{103}{c3,r2}{\probT{\PTc}}
\pnl{241}{253}{99}{c3,r3}{\logB{\LBc}}
\pnl{241}{359}{97}{c3,r4}{\logT{\LTc}}
\pnl{320}{26}{102}{c4,r1,title=4}{\probB{\PBd}}
\pnl{320}{135}{103}{c4,r2}{\probT{\PTd}}
\pnl{320}{253}{99}{c4,r3}{\logB{\LBd}}
\pnl{320}{359}{97}{c4,r4}{\logT{\LTd}}
\pnl{401}{26}{102}{c5,r1,title=5}{\probB{\PBe}}
\pnl{401}{135}{103}{c5,r2}{\probT{\PTe}}
\pnl{401}{253}{99}{c5,r3}{\logB{\LBe}}
\pnl{401}{359}{97}{c5,r4}{\logT{\LTe}}
\pnl{459}{26}{102}{c6,r1,title=6}{\probB{\PBf}}
\pnl{459}{135}{103}{c6,r2}{\probT{\PTf}}
\pnl{459}{253}{99}{c6,r3}{\logB{\LBf}}
\pnl{459}{359}{97}{c6,r4}{\logT{\LTf}}
\pnl{528}{26}{102}{c7,r1,title=7}{\probB{\PBg}}
\pnl{528}{135}{103}{c7,r2}{\probT{\PTg}}
\pnl{528}{253}{99}{c7,r3}{\logB{\LBg}}
\pnl{528}{359}{97}{c7,r4}{\logT{\LTg}}
% ===== bottom block =====
\pnl{71}{559}{103}{c8,r1,title=8}{\probB{\PBh}}
\pnl{71}{669}{104}{c8,r2}{\probT{\PTh}}
\pnl{71}{787}{97}{c8,r3}{\logB{\LBh}}
\pnl{71}{893}{97}{c8,r4}{\logT{\LTh}}
\pnl{116}{559}{103}{c9,r1,title=9}{\probB{\PBi}}
\pnl{116}{669}{104}{c9,r2}{\probT{\PTi}}
\pnl{116}{787}{97}{c9,r3}{\logB{\LBi}}
\pnl{116}{893}{97}{c9,r4}{\logT{\LTi}}
\pnl{182}{559}{103}{c10,r1,title=10}{\probB{\PBj}}
\pnl{182}{669}{104}{c10,r2}{\probT{\PTj}}
\pnl{182}{787}{97}{c10,r3}{\logB{\LBj}}
\pnl{182}{893}{97}{c10,r4}{\logT{\LTj}}
\pnl{250}{559}{103}{c11,r1,title=11}{\probB{\PBk}}
\pnl{250}{669}{104}{c11,r2}{\probT{\PTk}}
\pnl{250}{787}{97}{c11,r3}{\logB{\LBk}}
\pnl{250}{893}{97}{c11,r4}{\logT{\LTk}}
\pnl{305}{559}{103}{c12,r1,title=12}{\probB{\PBl}}
\pnl{305}{669}{104}{c12,r2}{\probT{\PTl}}
\pnl{305}{787}{97}{c12,r3}{\logB{\LBl}}
\pnl{305}{893}{97}{c12,r4}{\logT{\LTl}}
\pnl{371}{559}{103}{c13,r1,title=13}{\probB{\PBm}}
\pnl{371}{669}{104}{c13,r2}{\probT{\PTm}}
\pnl{371}{787}{97}{c13,r3}{\logB{\LBm}}
\pnl{371}{893}{97}{c13,r4}{\logT{\LTm}}
\pnl{437}{559}{103}{c14,r1,title=14}{\probB{\PBn}}
\pnl{437}{669}{104}{c14,r2}{\probT{\PTn}}
\pnl{437}{787}{97}{c14,r3}{\logB{\LBn}}
\pnl{437}{893}{97}{c14,r4}{\logT{\LTn}}
\pnl{485}{559}{103}{c15,r1,title=15}{\probB{\PBo}}
\pnl{485}{669}{104}{c15,r2}{\probT{\PTo}}
\pnl{485}{787}{97}{c15,r3}{\logB{\LBo}}
\pnl{485}{893}{97}{c15,r4}{\logT{\LTo}}
% ===== axis titles =====
\node[rotate=90, align=center, font=\titf, text=gg10] at (19pt,-132pt) {Probability of homolog\\pairing configurations};
\node[rotate=90, font=\titf, text=gg10] at (15pt,-355pt) {-log\textsubscript{10}(P)};
\node[font=\titf, text=gg10] at (325pt,-502pt) {Distance (cM)};
\node[rotate=90, align=center, font=\titf, text=gg10] at (19pt,-666pt) {Probability of homolog\\pairing configurations};
\node[rotate=90, font=\titf, text=gg10] at (15pt,-888pt) {-log\textsubscript{10}(P)};
\node[font=\titf, text=gg10] at (305pt,-1030pt) {Distance (cM)};
% ===== legend =====
\node[align=center, font=\legtf, text=gg10] at (683.5pt,-296pt) {Homolog pairing\\Configurations};
\node[anchor=west, inner sep=0pt, font=\legf, text=gg10] at (621pt,-329pt) {Beauregard};
\node[anchor=west, inner sep=0pt, font=\legf, text=gg10] at (714pt,-329pt) {Tanzania};
\begin{axis}[hide axis, scale only axis, width=5pt, height=5pt, xmin=0, xmax=1, ymin=0, ymax=1,
  at={(621.5pt,-344.3pt)}, anchor=north west,
  legend columns=2, legend cell align=left,
  legend style={at={(0,1)}, anchor=north west, draw=none, fill=none, inner sep=0pt, row sep=2.3pt,
    font=\legf, text=gg10, nodes={inner sep=0pt},
    /tikz/every odd column/.append style={column sep=9.5pt},
    /tikz/every even column/.append style={column sep=43pt}},
  legend image code/.code={\fill[legbg] (0pt,-12.2pt) rectangle (24.3pt,12.2pt);
    \draw[#1, line width=2.6pt] (2.5pt,0pt) -- (21.8pt,0pt);
    \fill[#1] (12.15pt,0pt) circle (3.3pt);}]
\lgi{B1}{ab}\lgi{T1}{gh}\lgi{B2}{ac}\lgi{T2}{gi}\lgi{B3}{ad}\lgi{T3}{gj}
\lgi{B4}{ae}\lgi{T4}{gk}\lgi{B5}{af}\lgi{T5}{gl}\lgi{B6}{bc}\lgi{T6}{hi}
\lgi{B7}{bd}\lgi{T7}{hj}\lgi{B8}{be}\lgi{T8}{hk}\lgi{B9}{bf}\lgi{T9}{hl}
\lgi{B10}{cd}\lgi{T10}{ij}\lgi{B11}{ce}\lgi{T11}{ik}\lgi{B12}{cf}\lgi{T12}{il}
\lgi{B13}{de}\lgi{T13}{jk}\lgi{B14}{df}\lgi{T14}{jl}\lgi{B15}{ef}\lgi{T15}{kl}
\end{axis}
\end{tikzpicture}
\end{document}
